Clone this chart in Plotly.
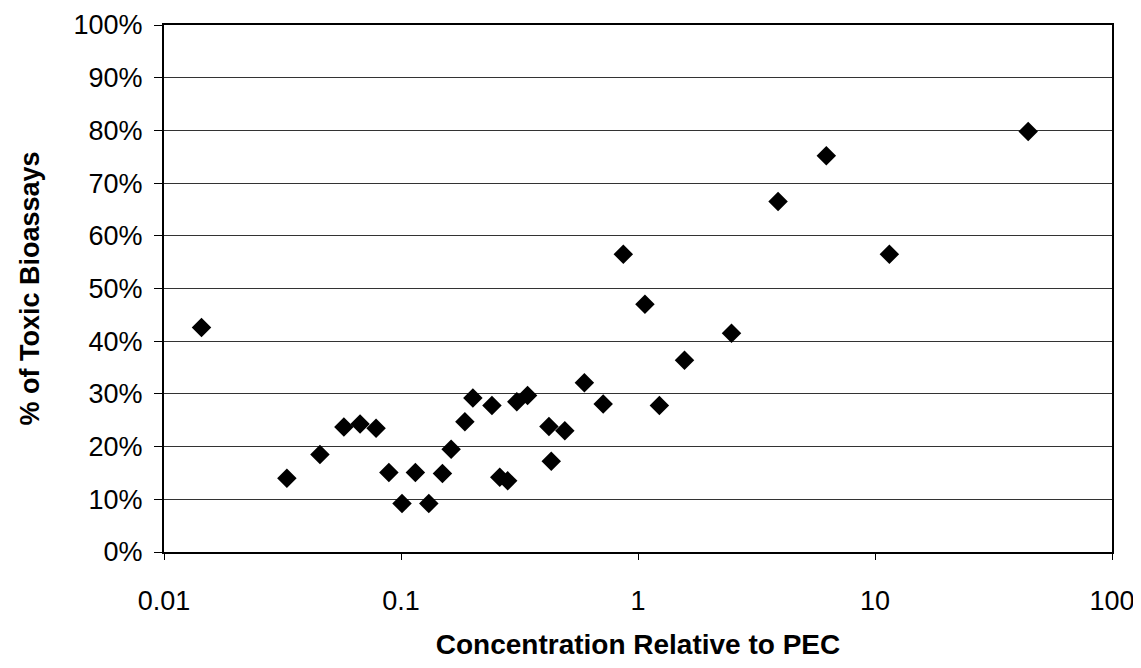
import plotly.graph_objects as go

conc = [0.0144, 0.033, 0.0455, 0.0574, 0.0672, 0.0785, 0.0889, 0.101, 0.115, 0.131,
        0.1496, 0.1627, 0.186, 0.201, 0.242, 0.261, 0.282, 0.308, 0.342, 0.421,
        0.4305, 0.491, 0.594, 0.713, 0.867, 1.07, 1.231, 1.571, 2.48, 3.90,
        6.23, 11.5, 44.3]
pct = [42.6, 14.0, 18.5, 23.7, 24.3, 23.5, 15.1, 9.2, 15.1, 9.2,
       14.9, 19.5, 24.7, 29.2, 27.8, 14.2, 13.5, 28.5, 29.7, 23.8,
       17.2, 23.0, 32.1, 28.1, 56.5, 47.0, 27.8, 36.4, 41.5, 66.5,
       75.2, 56.5, 79.8]

x_tickvals = [0.01, 0.1, 1, 10, 100]
x_ticktext = ["0.01", "0.1", "1", "10", "100"]
y_tickvals = list(range(0, 101, 10))
y_ticktext = [f"{v}%" for v in y_tickvals]

fig = go.Figure()
fig.add_trace(go.Scatter(
    x=conc, y=pct, mode="markers",
    marker=dict(symbol="diamond", size=15, color="black"),
    showlegend=False,
))

font = "Liberation Sans, Arial, sans-serif"
fig.update_layout(
    width=1133, height=652,
    margin=dict(l=156, r=29, t=17, b=108),
    paper_bgcolor="white", plot_bgcolor="white",
    font=dict(family=font, color="black"),
    xaxis=dict(
        type="log", range=[-2, 2],
        tickvals=x_tickvals, ticktext=x_ticktext,
        tickfont=dict(size=27),
        showgrid=False, zeroline=False,
        showline=True, linecolor="black", linewidth=2, mirror=True,
        ticks="outside", ticklen=6, tickcolor="black",
        ticklabelstandoff=18,
        automargin=False,
        title=dict(text="<b>Concentration Relative to PEC</b>", font=dict(size=28), standoff=26),
    ),
    yaxis=dict(
        range=[0, 100],
        tickvals=y_tickvals, ticktext=y_ticktext,
        tickfont=dict(size=27),
        showgrid=True, gridcolor="#333333", gridwidth=1,
        zeroline=False,
        showline=True, linecolor="black", linewidth=2, mirror=True,
        ticks="outside", ticklen=8, tickcolor="black",
        ticklabelstandoff=6,
        automargin=False,
        title=dict(text="<b>% of Toxic Bioassays</b>", font=dict(size=27), standoff=26),
    ),
)

fig.write_html("out.html")
